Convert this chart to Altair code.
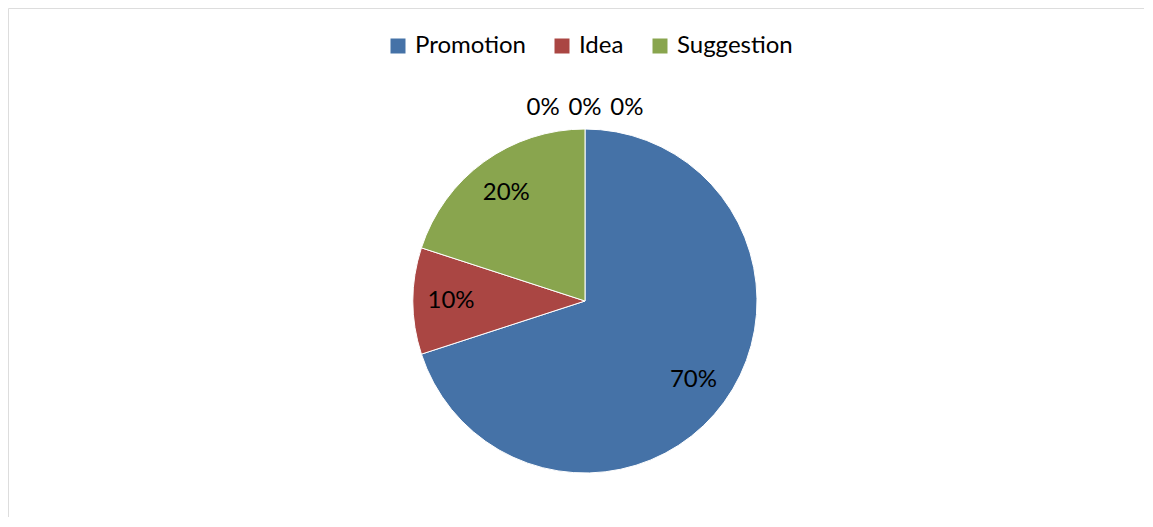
import altair as alt
import pandas as pd

categories = ["Promotion", "Idea", "Suggestion", "Blank 1", "Blank 2", "Blank 3"]
shares = [70, 10, 20, 0, 0, 0]
labels = ["70%", "10%", "20%", "0%", "0%", "0%"]
legend_categories = ["Promotion", "Idea", "Suggestion"]
colors = ["#4572A7", "#AA4643", "#89A54E"]

df = pd.DataFrame({
    "category": categories,
    "share": shares,
    "label": labels,
    "order": list(range(len(categories))),
})

W, H = 1136, 509
CX, CY, R = 577, 293, 172
FONT = "Lato"

base = alt.Chart(df)

pie = base.transform_filter("datum.share > 0").mark_arc(
    outerRadius=R, stroke="white", strokeWidth=1
).encode(
    theta=alt.Theta("share:Q", stack=True),
    color=alt.Color(
        "category:N",
        scale=alt.Scale(domain=legend_categories, range=colors),
        sort=legend_categories,
        legend=alt.Legend(
            orient="none", legendX=378, legendY=26, direction="horizontal",
            title=None, symbolType="square", symbolSize=225, symbolStrokeWidth=0,
            symbolOpacity=1, labelFont=FONT, labelFontSize=24, labelColor="black",
            columnPadding=24, labelOffset=5,
        ),
    ),
    order=alt.Order("order:Q"),
    x=alt.value(CX),
    y=alt.value(CY),
)

label_base = base.transform_window(
    cum="sum(share)", sort=[alt.SortField("order")], frame=[None, 0]
).transform_joinaggregate(
    total="sum(share)"
).transform_calculate(
    mid="datum.share > 0 ? (datum.cum - datum.share / 2) / datum.total : (datum.order - 4) * 0.034"
).transform_calculate(
    r="datum.share > 0 ? 134 : 193 / cos(datum.mid * 2 * PI)"
)

theta_enc = alt.Theta(
    "mid:Q", stack=False,
    scale=alt.Scale(domain=[0, 1], range=[0, 6.283185307], zero=False, clamp=False),
)
radius_enc = alt.Radius(
    "r:Q", scale=alt.Scale(type="linear", domain=[0, 200], range=[0, 200], zero=True)
)

text_labels = label_base.mark_text(
    font=FONT, fontSize=24, color="black", align="center", baseline="middle"
).encode(
    theta=theta_enc, radius=radius_enc, text="label:N",
    x=alt.value(CX), y=alt.value(CY),
)

chart = alt.layer(pie, text_labels).resolve_scale(
    theta="independent"
).properties(
    width=W, height=H, padding=0
).configure_view(
    stroke="#8c8c8c", strokeWidth=2, fill="white"
).configure(background="white")

chart.save("out.html", embed_options={"renderer": "svg", "actions": False})
